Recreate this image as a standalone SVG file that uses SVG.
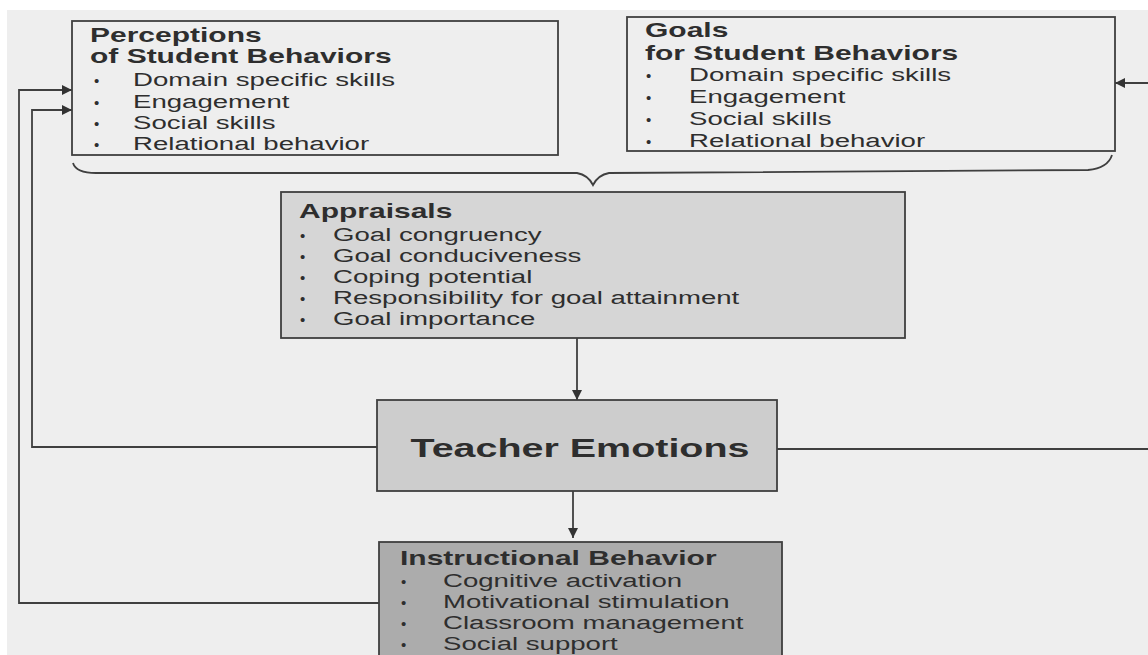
<svg xmlns="http://www.w3.org/2000/svg" width="1148" height="655" viewBox="0 0 1148 655">
<style>
.t{font-family:"Liberation Sans",Arial,sans-serif;fill:#2e2e2e}
.h{font-weight:bold;font-size:20px}
.i{font-size:18.4px}
.b{font-size:15px}
.big{font-weight:bold;font-size:26.3px}
.box{stroke:#3f3f3f;stroke-width:1.8}
.ln{fill:none;stroke:#3f3f3f;stroke-width:1.8}
</style>
<defs>
<marker id="ah" viewBox="0 0 10 10" refX="10" refY="5" markerWidth="12" markerHeight="10" markerUnits="userSpaceOnUse" orient="auto">
<path d="M0,0 L10,5 L0,10 Z" fill="#333333"/>
</marker>
</defs>
<rect x="0" y="0" width="1148" height="655" fill="#ffffff"/>
<rect x="7" y="10" width="1141" height="645" fill="#eeeeee"/>

<g id="connectors">
<path class="ln" d="M73,163 Q76,173 96,173 L577,173 Q588,175 593,185 Q598,175 609,173 L1088,170 Q1108,168 1112,155"/>
<path class="ln" d="M577,338 L577,400" marker-end="url(#ah)"/>
<path class="ln" d="M573,491 L573,538" marker-end="url(#ah)"/>
<path class="ln" d="M377,447 L32,447 L32,110 L72,110" marker-end="url(#ah)"/>
<path class="ln" d="M379,603 L19,603 L19,90 L72,90" marker-end="url(#ah)"/>
<path class="ln" d="M777,449 L1150,449"/>
<path class="ln" d="M1150,83 L1115,83" marker-end="url(#ah)"/>
</g>

<g id="perceptions">
<rect class="box" x="72" y="21" width="486" height="134" fill="none"/>
<text class="t h" transform="translate(90,42) scale(1.5,1)">Perceptions</text>
<text class="t h" transform="translate(90,63) scale(1.5,1)">of Student Behaviors</text>
<text class="t b" x="94" y="86">•</text>
<text class="t i" transform="translate(133,86) scale(1.5,1)">Domain specific skills</text>
<text class="t b" x="94" y="108">•</text>
<text class="t i" transform="translate(133,108) scale(1.5,1)">Engagement</text>
<text class="t b" x="94" y="129">•</text>
<text class="t i" transform="translate(133,129) scale(1.5,1)">Social skills</text>
<text class="t b" x="94" y="150">•</text>
<text class="t i" transform="translate(133,150) scale(1.5,1)">Relational behavior</text>
</g>

<g id="goals">
<rect class="box" x="627" y="17" width="488" height="134" fill="none"/>
<text class="t h" transform="translate(645,37) scale(1.5,1)">Goals</text>
<text class="t h" transform="translate(645,60) scale(1.5,1)">for Student Behaviors</text>
<text class="t b" x="646" y="81">•</text>
<text class="t i" transform="translate(689,81) scale(1.5,1)">Domain specific skills</text>
<text class="t b" x="646" y="103">•</text>
<text class="t i" transform="translate(689,103) scale(1.5,1)">Engagement</text>
<text class="t b" x="646" y="125">•</text>
<text class="t i" transform="translate(689,125) scale(1.5,1)">Social skills</text>
<text class="t b" x="646" y="147">•</text>
<text class="t i" transform="translate(689,147) scale(1.5,1)">Relational behavior</text>
</g>

<g id="appraisals">
<rect class="box" x="281" y="192" width="624" height="146" fill="#d6d6d6"/>
<text class="t h" transform="translate(299,218) scale(1.5,1)">Appraisals</text>
<text class="t b" x="300" y="241">•</text>
<text class="t i" transform="translate(333,241) scale(1.5,1)">Goal congruency</text>
<text class="t b" x="300" y="262">•</text>
<text class="t i" transform="translate(333,262) scale(1.5,1)">Goal conduciveness</text>
<text class="t b" x="300" y="283">•</text>
<text class="t i" transform="translate(333,283) scale(1.5,1)">Coping potential</text>
<text class="t b" x="300" y="304">•</text>
<text class="t i" transform="translate(333,304) scale(1.5,1)">Responsibility for goal attainment</text>
<text class="t b" x="300" y="325">•</text>
<text class="t i" transform="translate(333,325) scale(1.5,1)">Goal importance</text>
</g>

<g id="teacher-emotions">
<rect class="box" x="377" y="400" width="400" height="91" fill="#cdcdcd"/>
<text class="t big" text-anchor="middle" transform="translate(580,457) scale(1.5,1)">Teacher Emotions</text>
</g>

<g id="instructional-behavior">
<rect class="box" x="379" y="542" width="403" height="120" fill="#acacac"/>
<text class="t h" transform="translate(400,565) scale(1.5,1)">Instructional Behavior</text>
<text class="t b" x="401" y="587">•</text>
<text class="t i" transform="translate(443,587) scale(1.5,1)">Cognitive activation</text>
<text class="t b" x="401" y="608">•</text>
<text class="t i" transform="translate(443,608) scale(1.5,1)">Motivational stimulation</text>
<text class="t b" x="401" y="629">•</text>
<text class="t i" transform="translate(443,629) scale(1.5,1)">Classroom management</text>
<text class="t b" x="401" y="650">•</text>
<text class="t i" transform="translate(443,650) scale(1.5,1)">Social support</text>
</g>
</svg>
